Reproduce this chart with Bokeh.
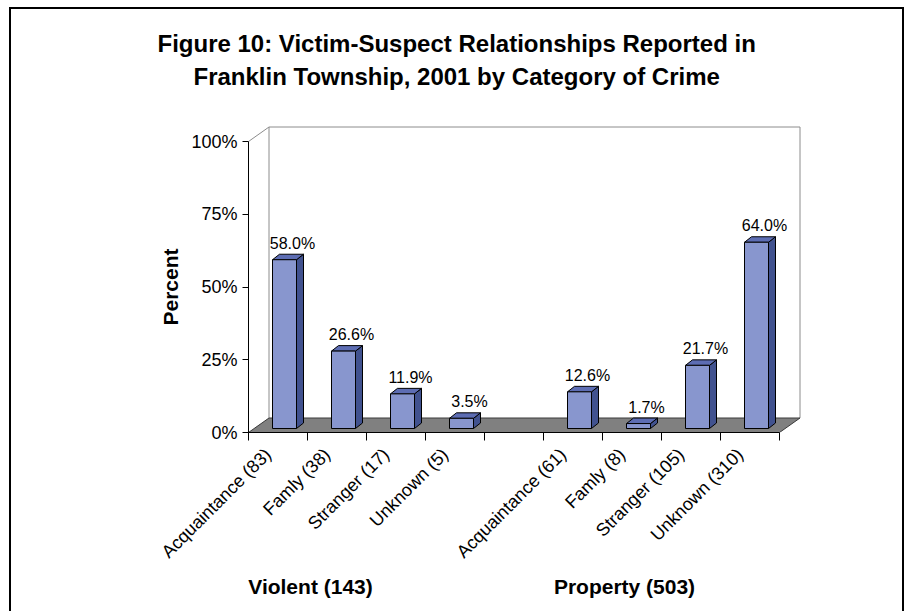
import numpy as np
from bokeh.plotting import figure
from bokeh.models import (Range1d, FixedTicker, CustomJSTickFormatter, PrintfTickFormatter,
                          LinearAxis, Title)
from bokeh.core.properties import value
from bokeh.embed import file_html
from bokeh.resources import INLINE

# ---------------- data ----------------
title_lines = ["Figure 10:  Victim-Suspect Relationships Reported in",
               "Franklin Township, 2001 by Category of Crime"]
violent_labels = ["Acquaintance (83)", "Famly (38)", "Stranger (17)", "Unknown (5)"]
violent_pct = [58.0, 26.6, 11.9, 3.5]
property_labels = ["Acquaintance (61)", "Famly (8)", "Stranger (105)", "Unknown (310)"]
property_pct = [12.6, 1.7, 21.7, 64.0]
group_labels = ["Violent (143)", "Property (503)"]
y_ticks = [0, 25, 50, 75, 100]
y_axis_title = "Percent"

# ---------------- geometry (pixels) ----------------
FONT = "Liberation Sans"
SLOT_PX = 59.0        # pixels per category slot
PCT_PX = 2.91         # pixels per percent
W, H = 895, 604
FR_L, FR_T, FR_W, FR_H = 237, 116, 553, 307
ORIGIN_X, ORIGIN_Y = 248, 432   # page position of data (0, 0)

def ux(px):  # pixels -> x data units
    return px / SLOT_PX

def uy(px):  # pixels -> y data units
    return px / PCT_PX

def x_at(page_x):
    return (page_x - ORIGIN_X) / SLOT_PX

FLOOR_DX, FLOOR_DY = ux(20.5), uy(14.5)
BAR_LEFT, BAR_W = ux(24), ux(24)
BAR_LIFT = uy(4)
BAR_DX, BAR_DY = ux(7), uy(5.5)
LABEL_SHIFT = ux(10)

labels_all = violent_labels + [""] + property_labels
values_all = violent_pct + [None] + property_pct
n_slots = len(labels_all)

title_font = dict(text_font=FONT, text_font_size="24px", text_font_style="bold",
                  text_color="black", align="left")

p = figure(width=W, height=H, output_backend="svg", toolbar_location=None,
           x_range=Range1d(0, FR_W / SLOT_PX), y_range=Range1d(0, FR_H / PCT_PX),
           min_border_left=FR_L, min_border_right=W - FR_L - FR_W,
           min_border_top=FR_T, min_border_bottom=H - FR_T - FR_H)
# title block: spacer next to the frame, then line 2, then line 1 (outermost)
p.add_layout(Title(text=" ", standoff=5, **title_font), "above")
p.add_layout(Title(text=title_lines[1], standoff=4, offset=-55, **title_font), "above")
p.title = Title(text=title_lines[0], standoff=4, offset=-91, **title_font)
p.styles = {"margin-left": "9px", "margin-top": "7px",
            "border-left": "2px solid black", "border-top": "2px solid black",
            "border-right": "2px solid black"}
p.outline_line_color = None
p.xgrid.visible = False
p.ygrid.visible = False
p.background_fill_color = "white"
p.border_fill_color = "white"

# back wall
p.line([0, FLOOR_DX, FLOOR_DX + n_slots, FLOOR_DX + n_slots],
       [100, 100 + FLOOR_DY, 100 + FLOOR_DY, FLOOR_DY], line_color="#8c8c8c", line_width=1)
p.line([FLOOR_DX, FLOOR_DX], [FLOOR_DY, 100 + FLOOR_DY], line_color="#8c8c8c", line_width=1)

# floor
p.patch([0, n_slots, n_slots + FLOOR_DX, FLOOR_DX], [0, 0, FLOOR_DY, FLOOR_DY],
        fill_color="#808080", line_color="#3a3a3a", line_width=1)

# bars
front_xs, front_ys, top_xs, top_ys, side_xs, side_ys = [], [], [], [], [], []
lab_x, lab_y, lab_t = [], [], []
for i, v in enumerate(values_all):
    if v is None:
        continue
    l = i + BAR_LEFT
    r = l + BAR_W
    b = BAR_LIFT
    t = BAR_LIFT + v
    front_xs.append([l, r, r, l]); front_ys.append([b, b, t, t])
    top_xs.append([l, r, r + BAR_DX, l + BAR_DX]); top_ys.append([t, t, t + BAR_DY, t + BAR_DY])
    side_xs.append([r, r + BAR_DX, r + BAR_DX, r]); side_ys.append([b, b + BAR_DY, t + BAR_DY, t])
    lab_x.append((l + r) / 2 + ux(8))
    lab_y.append(t + BAR_DY + uy(11))
    lab_t.append(f"{v:.1f}%")

p.patches(side_xs, side_ys, fill_color="#41528f", line_color="black", line_width=1)
p.patches(top_xs, top_ys, fill_color="#5d6db3", line_color="black", line_width=1)
p.patches(front_xs, front_ys, fill_color="#8896ce", line_color="black", line_width=1)

p.text(x=lab_x, y=lab_y, text=lab_t, text_align="center", text_baseline="alphabetic",
       text_font=value(FONT), text_font_size="16px", text_color="black")

# x axis with category labels
xa = p.xaxis[0]
xa.bounds = (0, n_slots)
xa.ticker = FixedTicker(ticks=[i + 0.5 - LABEL_SHIFT for i, s in enumerate(labels_all) if s],
                        minor_ticks=list(range(n_slots + 1)))
xa.formatter = CustomJSTickFormatter(args=dict(labels=labels_all),
                                     code="return labels[Math.floor(tick)] || '';")
xa.major_label_orientation = np.pi / 4
xa.major_tick_out = 0
xa.major_tick_in = 0
xa.minor_tick_out = 8
xa.minor_tick_in = 0
xa.minor_tick_line_color = "black"
xa.axis_line_color = "black"
xa.major_label_text_font = FONT
xa.major_label_text_font_size = "18px"
xa.major_label_text_color = "black"
xa.major_label_standoff = 11

# second x axis: group labels
group_pos = [x_at(310), x_at(624)]
ga = LinearAxis(ticker=FixedTicker(ticks=group_pos, minor_ticks=[]),
                formatter=CustomJSTickFormatter(args=dict(pos=group_pos, labels=group_labels),
                                                code="return labels[pos.indexOf(tick)] || '';"),
                axis_line_color=None, major_tick_line_color=None, minor_tick_line_color=None,
                major_label_text_font=FONT, major_label_text_font_size="21px",
                major_label_text_font_style="bold", major_label_text_color="black",
                major_label_standoff=-3)
p.add_layout(ga, "below")

# y axis
ya = p.yaxis[0]
ya.bounds = (0, 100)
ya.ticker = FixedTicker(ticks=y_ticks, minor_ticks=[])
ya.formatter = PrintfTickFormatter(format="%d%%")
ya.major_tick_out = 6
ya.major_tick_in = 0
ya.major_tick_line_color = "black"
ya.axis_line_color = "black"
ya.major_label_text_font = FONT
ya.major_label_text_font_size = "18px"
ya.major_label_text_color = "black"
ya.major_label_standoff = 5

# second y axis: axis title centred on 50 %
ta = LinearAxis(ticker=FixedTicker(ticks=[50], minor_ticks=[]),
                formatter=CustomJSTickFormatter(args=dict(t=y_axis_title), code="return t;"),
                axis_line_color=None, major_tick_line_color=None, minor_tick_line_color=None,
                major_label_orientation="parallel",
                major_label_text_font=FONT, major_label_text_font_size="21px",
                major_label_text_font_style="bold", major_label_text_color="black",
                major_label_standoff=1)
p.add_layout(ta, "left")

open("out.html", "w").write(file_html(p, INLINE))
